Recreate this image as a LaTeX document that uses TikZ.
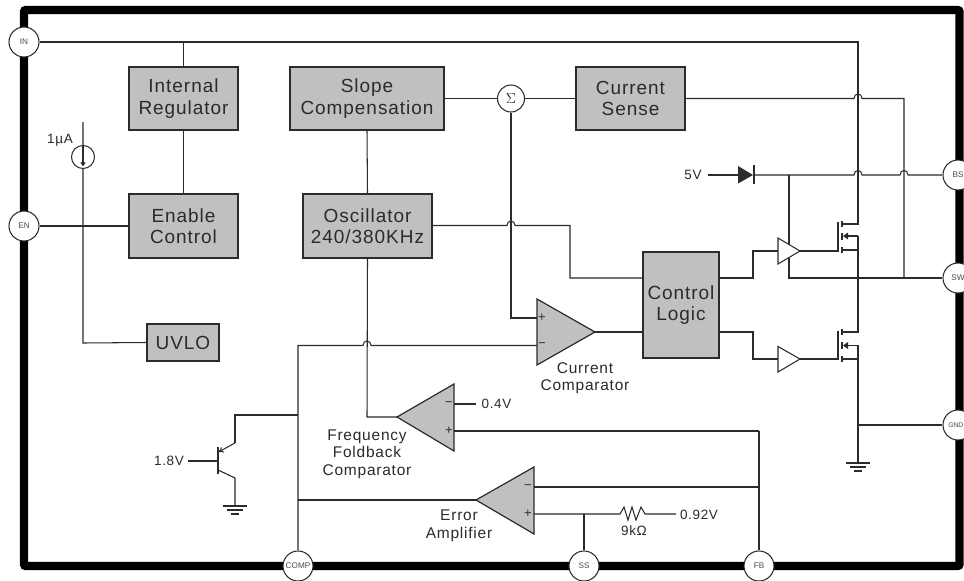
\documentclass[tikz,border=0pt]{standalone}
\usepackage{fontspec}
\usetikzlibrary{arrows.meta}
\setmainfont{Liberation Sans}
\newfontfamily\spaced[LetterSpace=5]{Liberation Sans}
\definecolor{ink}{HTML}{2B2B2B}
\definecolor{boxgrey}{HTML}{C0C0C0}
\newcommand{\hoph}[2]{-- (#1-4,#2) .. controls (#1-4,#2-6) and (#1+4,#2-6) .. (#1+4,#2)}
\newcommand{\gndsym}[2]{%
  \draw[wire] (#1-12,#2) -- (#1+12,#2);
  \draw[wire] (#1-8,#2+4) -- (#1+8,#2+4);
  \draw[wire] (#1-4,#2+8) -- (#1+4,#2+8);}
\tikzset{
  wire/.style={draw=ink,line width=1.05pt},
  blockbox/.style={draw=ink,line width=1.3pt,fill=boxgrey,inner sep=0pt,align=center,text=ink,
    font=\spaced\fontsize{19}{21.5}\selectfont},
  pin/.style={circle,draw=ink,line width=1.05pt,fill=white,minimum size=30pt,inner sep=0pt,text=ink!85,
    font=\fontsize{8.2}{9}\selectfont},
  lbl/.style={inner sep=0pt,align=center,text=ink,font=\spaced\fontsize{15.5}{17.5}\selectfont},
  small/.style={inner sep=0pt,text=ink,font=\spaced\fontsize{13.5}{15}\selectfont},
  sign/.style={inner sep=0pt,text=ink,font=\fontsize{13}{14}\selectfont},
  opamp/.style={draw=ink,line width=1.2pt,fill=boxgrey,line join=miter},
  driver/.style={draw=ink,line width=1.05pt,fill=white},
}
\begin{document}
\begin{tikzpicture}[x=1pt,y=-1pt]
\clip (0,0) rectangle (964,581);
\fill[white] (0,0) rectangle (964,581);
% package outline
\draw[line width=8.4pt,rounded corners=2pt,black] (24,10) rectangle (959.5,566);
% pins
\node[pin] (in) at (24,42) {IN};
\node[pin] (en) at (24,226) {EN};
\node[pin] (comp) at (298,566) {COMP};
\node[pin] (ss) at (584,566) {SS};
\node[pin] (fb) at (759,566) {FB};
\node[pin] (bs) at (958,175) {BS};
\node[pin] (sw) at (958,278) {SW};
\node[pin] (gnd) at (958,425) {};
\node[inner sep=0pt,text=ink!85,font=\fontsize{6.8}{8}\selectfont] (gndtext) at (955.8,425) {GND};
% blocks
\node[blockbox,minimum width=109pt,minimum height=63pt] (ireg) at (183.5,98.5) {Internal\\Regulator};
\node[blockbox,minimum width=109pt,minimum height=64pt] (enc) at (183.5,226) {Enable\\Control};
\node[blockbox,minimum width=154pt,minimum height=63pt] (slope) at (367,98.5) {Slope\\Compensation};
\node[blockbox,minimum width=109pt,minimum height=63pt] (csense) at (630.5,98.5) {Current\\Sense};
\node[blockbox,minimum width=129pt,minimum height=64pt] (osc) at (367.5,226) {Oscillator\\240/380KHz};
\node[blockbox,minimum width=72pt,minimum height=37pt] (uvlo) at (183,342.5) {UVLO};
\node[blockbox,minimum width=76pt,minimum height=106pt] (logic) at (681,305) {Control\\Logic};
\node[circle,draw=ink,line width=1.05pt,fill=white,minimum size=27pt,inner sep=0pt,text=ink,font=\fontsize{15}{16}\selectfont] (sum) at (511,98.5) {$\Sigma$};
% key points
\coordinate (vin) at (858,42);
\coordinate (hsd) at (858,224);
\coordinate (hss) at (858,236);
\coordinate (hsb) at (858,250);
\coordinate (lsd) at (858,332);
\coordinate (lss) at (858,345.5);
\coordinate (lsb) at (858,359);
\coordinate (lsg) at (858,463);
\coordinate (swn) at (904,278);
\coordinate (drvtop) at (789,175);
\coordinate (cctip) at (595,332);
\coordinate (fctip) at (397,417);
\coordinate (eatip) at (476,500);
\coordinate (v5) at (708,175);
\coordinate (diodeA) at (738,175);
\coordinate (diodeK) at (754,175);
\coordinate (hdrv) at (800,251);
\coordinate (ldrv) at (800,359);
% connectors
\draw[wire] (in.east) -- (vin) -- (hsd) -- (842,224);
\draw[wire] (ireg.north) -- (ireg.north |- in.east);
\draw[wire] (ireg.south) -- (enc.north);
\draw[wire] (en.east) -- (enc.west);
\draw[wire] (83,122) -- (83,343) -- (uvlo.west);
\draw[wire] (slope.east) -- (sum.west);
\draw[wire] (sum.east) -- (csense.west);
\draw[wire] (slope.south) -- (osc.north);
\draw[wire] (csense.east) \hoph{858}{98.5} -- (904,98.5) -- (swn);
\draw[wire] (v5) -- (diodeA);
\draw[wire] (diodeK) -- (drvtop) \hoph{858}{175} \hoph{904}{175} -- (bs.west);
\draw[wire] (osc.east |- 0,225.5) \hoph{511}{225.5} -- (570,225.5) -- (570,278) -- (logic.west |- 0,278);
\draw[wire] (sum.south) -- (511,318) -- (537,318);
\draw[wire] (comp.north) -- (298,345.5) \hoph{367}{345.5} -- (537,345.5);
\draw[wire] (osc.south) -- (367,417) -- (fctip);
\draw[wire] (cctip) -- (logic.west |- cctip);
\draw[wire] (logic.east |- 0,278) -- (753,278) -- (753,251) -- (778,251);
\draw[wire] (logic.east |- 0,332) -- (753,332) -- (753,359) -- (778,359);
\draw[wire] (drvtop) -- (789,245);
\draw[wire] (789,258) -- (789,278) -- (sw.west);
\draw[wire] (hss) -- (lsd) -- (842,332);
\draw[wire] (hss) -- (847,236);
\draw[wire] (hsb) -- (842,250);
\draw[wire] (hdrv) -- (838,251);
\draw[wire] (ldrv) -- (838,359);
\draw[wire] (848,345.5) -- (lss) -- (lsg);
\draw[wire] (lsb) -- (842,359);
\draw[wire] (858,425) -- (gnd.west);
% ground main
\gndsym{858}{463}
% MOSFETs
\draw[wire,line width=1.2pt] (838,222) -- (838,252);
\draw[wire] (842,221) -- (842,227) (842,233) -- (842,240) (842,247) -- (842,253);
\fill[ink] (843,236) -- (848,232.5) -- (848,239.5) -- cycle;
\draw[wire,line width=1.2pt] (838,331) -- (838,360);
\draw[wire] (842,329) -- (842,335) (842,342) -- (842,349) (842,356) -- (842,362);
\fill[ink] (843,345.5) -- (848,342) -- (848,349) -- cycle;
% drivers
\draw[driver] (778,238) -- (hdrv) -- (778,264) -- cycle;
\draw[driver] (778,346.5) -- (ldrv) -- (778,372) -- cycle;
% diode
\fill[ink] (diodeA |- 0,166) -- (753,175) -- (738,183.5) -- cycle;
\draw[wire,line width=1.2pt] (754,165) -- (754,184);
\node[small] (l5v) at (693,175) {5V};
% current source
\node[circle,draw=ink,line width=1.05pt,fill=white,minimum size=23pt,inner sep=0pt] (isrc) at (83,157) {};
\draw[wire,-{To[length=4pt,width=5pt]}] (83,146) -- (83,166);
\node[small] (l1ua) at (60,140) {1µA};
% comparators
\draw[opamp] (537,299) -- (cctip) -- (537,365) -- cycle;
\draw[opamp] (454,384) -- (fctip) -- (454,451) -- cycle;
\draw[opamp] (534,467) -- (eatip) -- (534,534) -- cycle;
\node[sign] (cp) at (542,318) {+};
\node[sign] (cm) at (542,345.5) {−};
\node[sign] (fp) at (449,431) {+};
\node[sign] (fm) at (449,404) {−};
\node[sign] (ep) at (528,514) {+};
\node[sign] (em) at (528,487) {−};
% feedback wiring
\draw[wire] (454,404) -- (476,404);
\node[small] (l04) at (496.5,404) {0.4V};
\draw[wire] (454,431) -- (759,431);
\draw[wire] (fb.north) -- (759,431);
\draw[wire] (534,487) -- (759,487);
\draw[wire] (534,514) -- (620,514) -- (624,507) -- (628,520) -- (632,507) -- (636,520) -- (641,507) -- (645,514) -- (676,514);
\draw[wire] (ss.north) -- (584,514);
\node[small] (l092) at (699,515) {0.92V};
\node[small] (l9k) at (634,531) {9kΩ};
\draw[wire] (eatip) -- (298,500);
% BJT
\draw[wire] (298,415) -- (235,415) -- (235,443);
\draw[wire,-{To[length=5pt,width=6pt]}] (235,443) -- (218.5,452);
\draw[wire,line width=1.2pt] (218,447) -- (218,474);
\draw[wire] (188,461) -- (218,461);
\draw[wire] (218,470) -- (235,478) -- (235,506);
\gndsym{235}{506}
\node[small] (l18) at (169,461) {1.8V};
% labels
\node[lbl] (lcc) at (585,378) {Current\\Comparator};
\node[lbl] (lfc) at (367,454) {Frequency\\Foldback\\Comparator};
\node[lbl] (lea) at (459,526) {Error\\Amplifier};
\end{tikzpicture}
\end{document}
